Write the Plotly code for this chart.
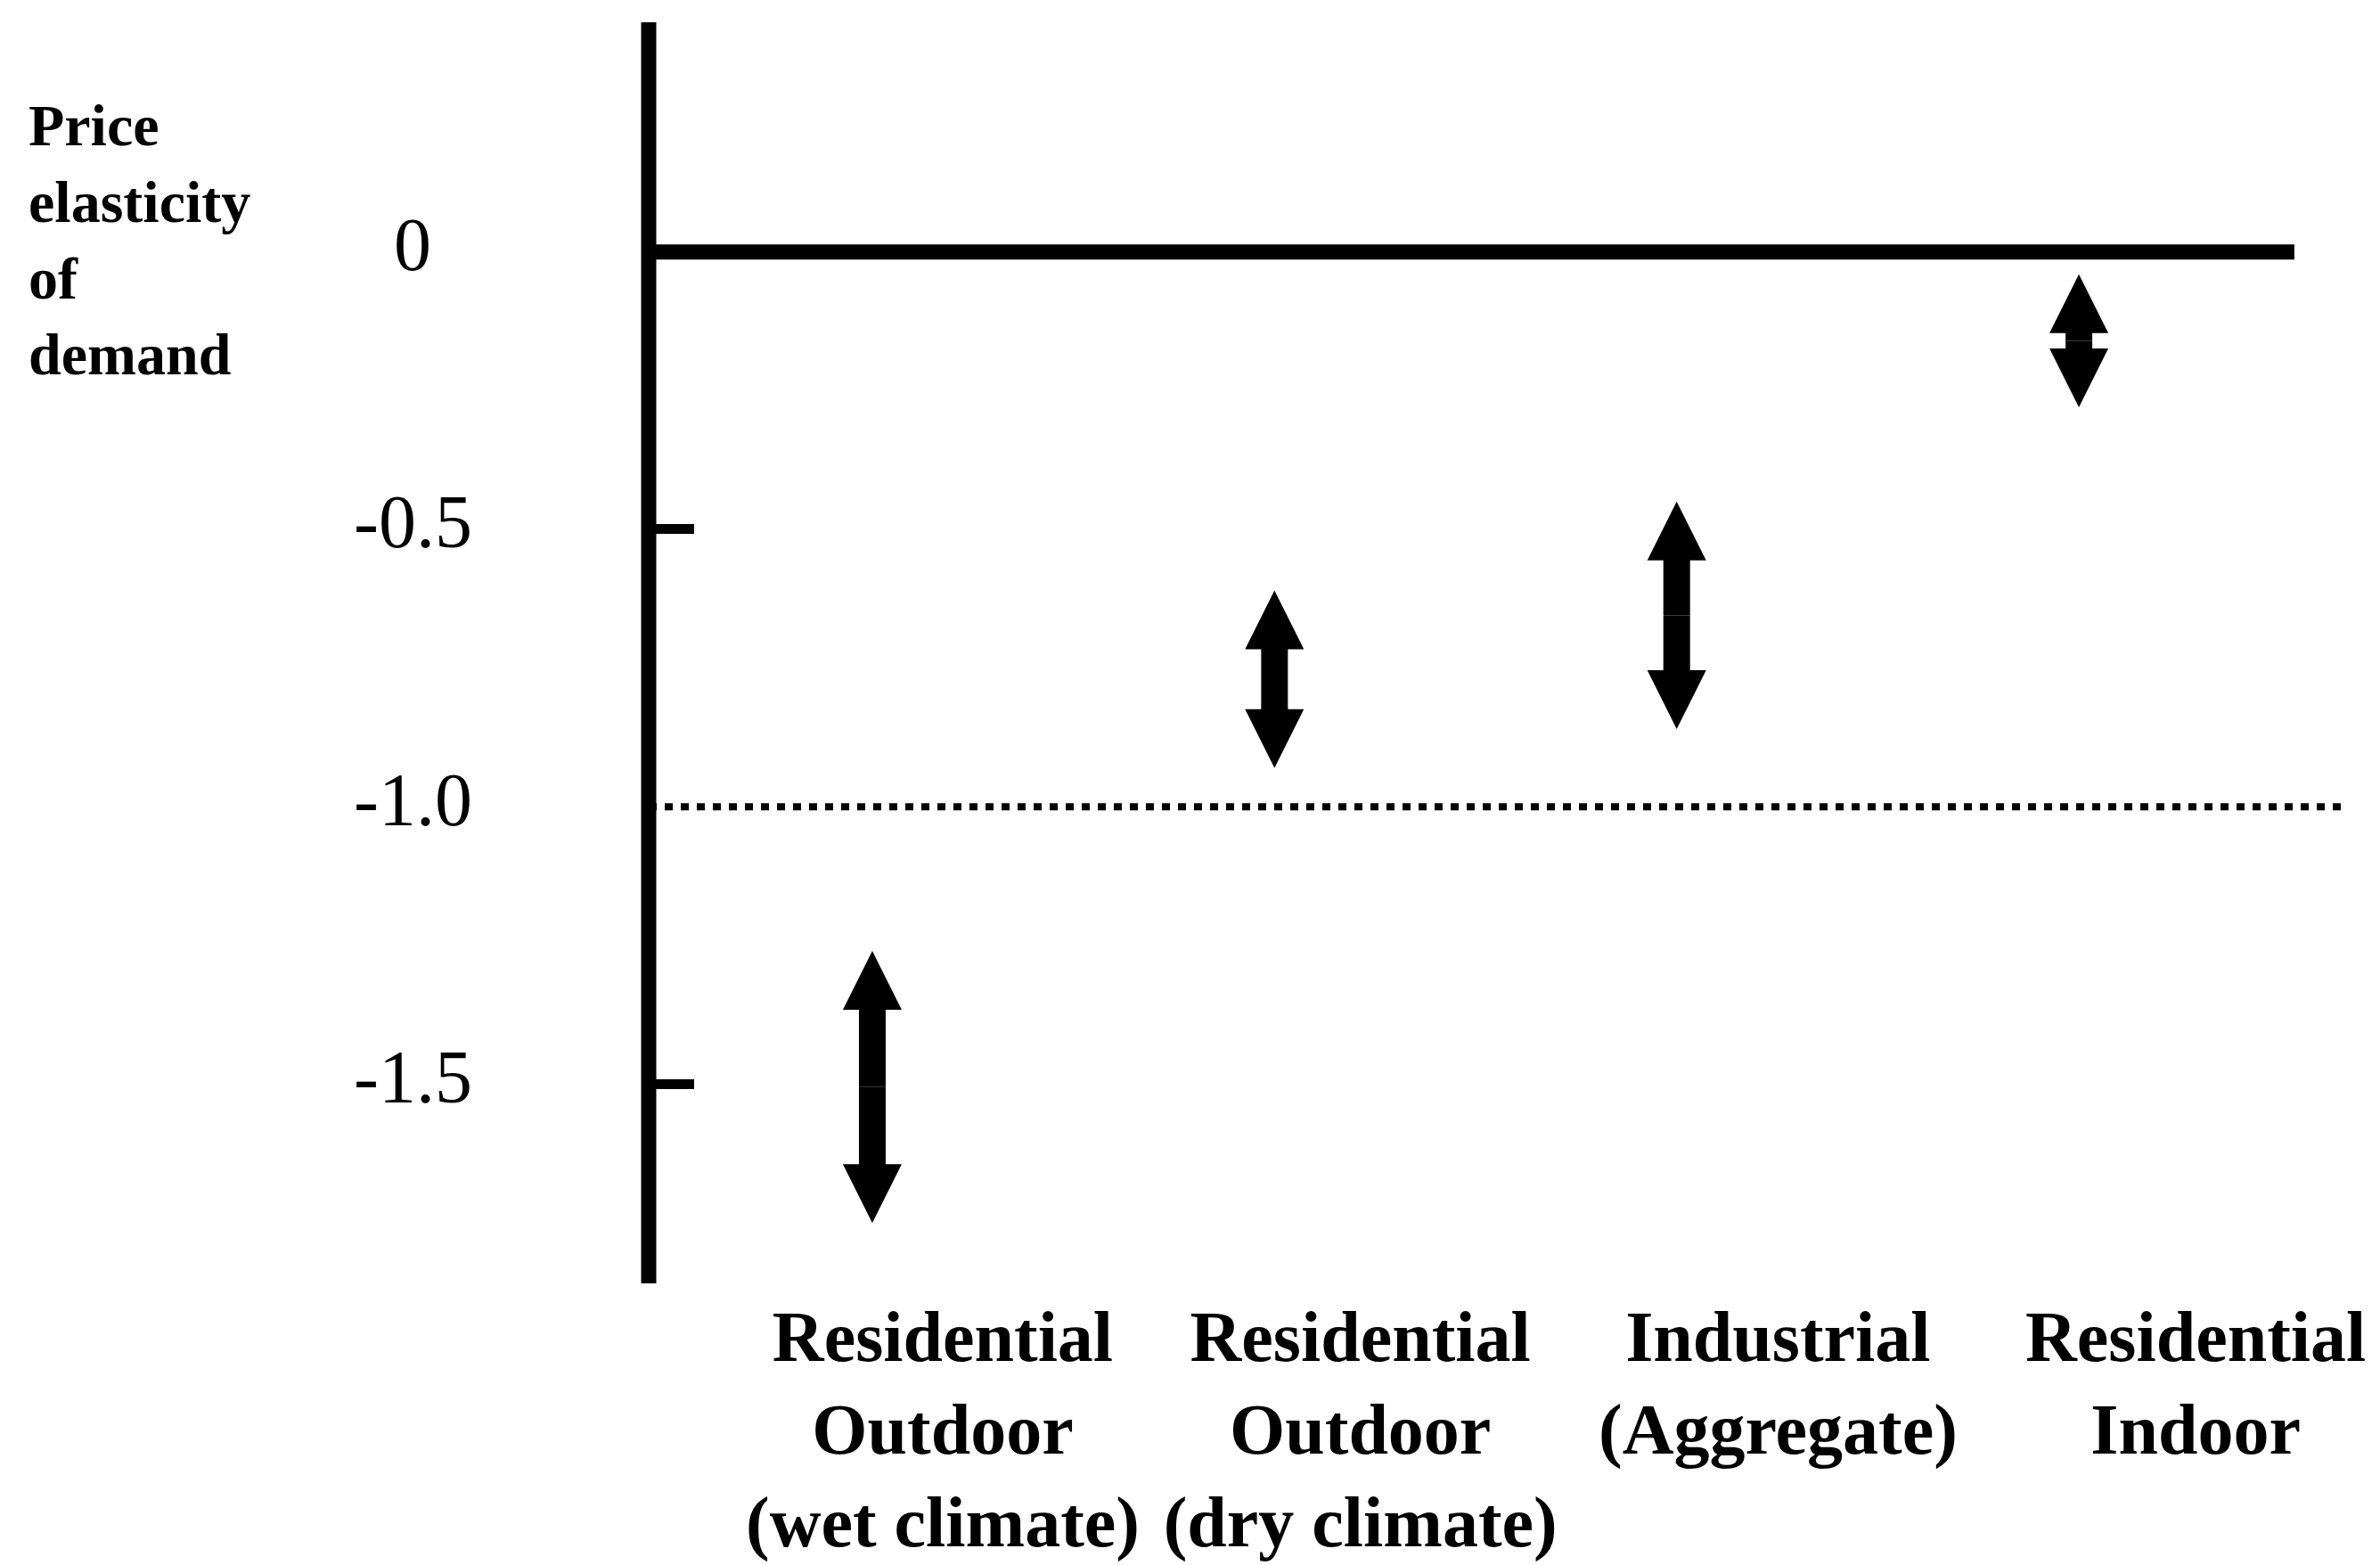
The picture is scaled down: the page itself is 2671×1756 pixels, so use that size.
import plotly.graph_objects as go

# ---- data ----
categories = [
    "Residential<br>Outdoor<br>(wet climate)",
    "Residential<br>Outdoor<br>(dry climate)",
    "Industrial<br>(Aggregate)",
    "Residential<br>Indoor",
]
elasticity_high = [-1.26, -0.61, -0.45, -0.04]   # upper end of range
elasticity_low = [-1.75, -0.93, -0.86, -0.28]    # lower end of range
y_tick_values = [0, -0.5, -1.0, -1.5]
y_tick_labels = ["0", "-0.5", "-1.0", "-1.5"]
y_title_lines = ["Price", "elasticity", "of", "demand"]
unit_elastic_level = -1.0
zero_level = 0.0

FONT = "Liberation Serif, Times New Roman, serif"
BLACK = "#000000"
W, H = 2671, 1756
ML, MR, MT, MB = 720, 11, 17, 318

fig = go.Figure()

pos = list(range(len(categories)))

# double-headed arrows: two half-shafts with arrow-head markers
for i, (hi, lo) in enumerate(zip(elasticity_high, elasticity_low)):
    mid = (hi + lo) / 2
    for end, sym in ((hi, "arrow-up"), (lo, "arrow-down")):
        fig.add_trace(go.Scatter(
            x=[pos[i], pos[i]], y=[mid, end],
            mode="lines+markers",
            line=dict(color=BLACK, width=30, backoff=50),
            marker=dict(symbol=["circle", sym], size=[0, 66], color=BLACK,
                        opacity=1, line=dict(width=0)),
            showlegend=False, hoverinfo="skip",
        ))

# invisible trace to carry the category axis
fig.add_trace(go.Scatter(x=pos, y=[None] * len(pos), xaxis="x2",
                         mode="markers", showlegend=False, hoverinfo="skip"))

shapes = [
    # vertical axis line
    dict(type="line", xref="paper", yref="paper", x0=0, x1=0, y0=0, y1=1,
         line=dict(color=BLACK, width=17)),
    # zero line
    dict(type="line", xref="paper", yref="y", x0=0, x1=0.952,
         y0=zero_level, y1=zero_level, line=dict(color=BLACK, width=17)),
    # unit elasticity dotted line
    dict(type="line", xref="paper", yref="y", x0=0, x1=0.981,
         y0=unit_elastic_level, y1=unit_elastic_level,
         line=dict(color=BLACK, width=8, dash="9px,9px")),
]

annotations = []
for v, t in zip(y_tick_values, y_tick_labels):
    annotations.append(dict(
        x=(455 - ML) / (W - ML - MR), xref="paper", y=v, yref="y",
        text=t, showarrow=False, xanchor="center", yanchor="middle", yshift=8,
        font=dict(family=FONT, size=84, color=BLACK),
    ))

annotations.append(dict(
    x=(22 - ML) / (W - ML - MR), xref="paper", y=0.9455, yref="paper",
    text="<br>".join(f"<b>{s}</b>" for s in y_title_lines),
    showarrow=False, xanchor="left", yanchor="top", align="left",
    font=dict(family=FONT, size=66, color=BLACK),
))

tick_marks = [v for v in y_tick_values if v not in (zero_level, unit_elastic_level)]

fig.update_layout(
    width=W, height=H, autosize=False,
    margin=dict(l=ML, r=MR, t=MT, b=MB, pad=0),
    paper_bgcolor="white", plot_bgcolor="white",
    showlegend=False,
    shapes=shapes, annotations=annotations,
    xaxis=dict(range=[-0.556, 3.742], visible=False, showgrid=False, zeroline=False),
    xaxis2=dict(range=[-0.704, 3.435], overlaying="x", anchor="y", side="bottom",
                tickvals=pos, ticktext=[f"<b>{c}</b>" for c in categories],
                ticks="", showline=False, showgrid=False, zeroline=False,
                ticklabelstandoff=6,
                tickfont=dict(family=FONT, size=80, color=BLACK)),
    yaxis=dict(range=[-1.859, 0.414], tickvals=tick_marks,
               showticklabels=False, ticks="inside", ticklen=51, tickwidth=11,
               tickcolor=BLACK, showgrid=False, zeroline=False, showline=False),
)

fig.write_html("out.html")
